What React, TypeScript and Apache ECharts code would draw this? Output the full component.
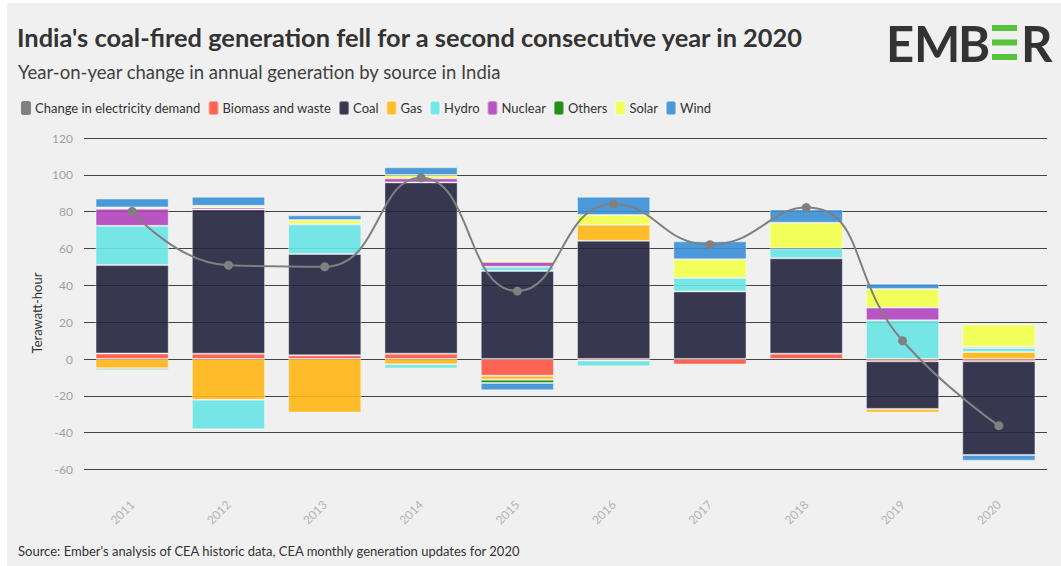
import React, { useEffect, useRef } from "react";
import * as echarts from "echarts";

const years = ["2011", "2012", "2013", "2014", "2015", "2016", "2017", "2018", "2019", "2020"];
const biomass = [3.0, 2.9, 2.0, 2.9, -9.1, -0.8, -3.0, 2.9, -1.2, -1.2];
const coal = [48.0, 78.3, 55.0, 93.0, 47.8, 64.2, 36.7, 51.8, -25.9, -50.9];
const gas = [-5.0, -22.1, -29.1, -2.9, -2.1, 8.7, null, null, -2.0, 3.8];
const hydro = [21.3, -16.1, 16.1, -2.2, 2.3, -3.2, 7.3, 5.4, 21.0, 2.2];
const nuclear = [9.3, 1.1, null, 2.2, 2.6, null, null, null, 6.9, null];
const others = [-0.8, null, null, null, -1.8, null, null, null, null, 0.7];
const solar = [0.7, 0.9, 2.4, 1.8, 1.0, 5.3, 10.1, 13.9, 10.1, 12.1];
const wind = [4.8, 4.9, 2.5, 4.2, -4.0, 9.9, 9.8, 7.2, 2.9, -3.1];
const demand = [80.2, 50.9, 50.1, 98.4, 36.9, 84.1, 62.1, 82.2, 9.9, -36.2];

const sources = [
  { name: "Biomass and waste", data: biomass, color: "#ff5443" },
  { name: "Coal", data: coal, color: "#22223e" },
  { name: "Gas", data: gas, color: "#ffb614" },
  { name: "Hydro", data: hydro, color: "#68e3e3" },
  { name: "Nuclear", data: nuclear, color: "#b144bc" },
  { name: "Others", data: others, color: "#0b8500" },
  { name: "Solar", data: solar, color: "#f2ff49" },
  { name: "Wind", data: wind, color: "#388fd5" },
];
const demandName = "Change in electricity demand";

const FONT = "Lato, 'Noto Sans', sans-serif";

export default function App() {
  const ref = useRef<HTMLDivElement>(null);
  useEffect(() => {
    if (!ref.current) return;
    const chart = echarts.init(ref.current, undefined, { renderer: "svg" });
    const green = "#58c23a";
    const option: any = {
      animation: false,
      backgroundColor: "#ffffff",
      textStyle: { fontFamily: FONT },
      graphic: [
        { type: "rect", z: -10, shape: { x: 7, y: 3, width: 1054, height: 563 }, style: { fill: "#f0f0f0" } },
        {
          type: "text", x: 17, y: 37,
          style: { text: "India's coal-fired generation fell for a second consecutive year in 2020", font: `bold 25.4px ${FONT}`, fill: "#333333", verticalAlign: "middle" },
        },
        {
          type: "text", x: 18, y: 72,
          style: { text: "Year-on-year change in annual generation by source in India", font: `18.5px ${FONT}`, fill: "#404040", verticalAlign: "middle" },
        },
        {
          type: "text", x: 18, y: 551,
          style: { text: "Source: Ember's analysis of CEA historic data, CEA monthly generation updates for 2020", font: `13px ${FONT}`, fill: "#333333", verticalAlign: "middle" },
        },
        {
          type: "text", x: 37, y: 313, rotation: Math.PI / 2,
          style: { text: "Terawatt-hour", font: `13px ${FONT}`, fill: "#333333", align: "center", verticalAlign: "middle" },
        },
        { type: "text", x: 886, y: 43, style: { text: "E", font: `bold 49px ${FONT}`, fill: "#333333", verticalAlign: "middle" } },
        { type: "text", x: 914, y: 43, style: { text: "M", font: `bold 49px ${FONT}`, fill: "#333333", verticalAlign: "middle" } },
        { type: "text", x: 958, y: 43, style: { text: "B", font: `bold 49px ${FONT}`, fill: "#333333", verticalAlign: "middle" } },
        { type: "rect", shape: { x: 992, y: 25, width: 25, height: 6 }, style: { fill: green } },
        { type: "rect", shape: { x: 992, y: 39.5, width: 25, height: 6 }, style: { fill: green } },
        { type: "rect", shape: { x: 992, y: 54, width: 25, height: 6 }, style: { fill: green } },
        { type: "text", x: 1021, y: 43, style: { text: "R", font: `bold 49px ${FONT}`, fill: "#333333", verticalAlign: "middle" } },
      ],
      legend: {
        left: 16,
        top: 95,
        itemWidth: 10,
        itemHeight: 14,
        itemGap: 7,
        icon: "roundRect",
        textStyle: { fontFamily: FONT, fontSize: 13, color: "#333333", padding: [0, 0, 0, -1] },
        data: [demandName, ...sources.map((s) => s.name)],
      },
      grid: { left: 84, right: 14, top: 138, bottom: 96.5, containLabel: false },
      xAxis: {
        type: "category",
        data: years,
        axisLine: { show: false },
        axisTick: { show: false },
        axisLabel: { rotate: 45, margin: 33, color: "#b4b4b4", fontSize: 12, fontFamily: FONT },
        splitLine: { show: false },
      },
      yAxis: {
        type: "value",
        min: -60,
        max: 120,
        interval: 20,
        axisLine: { show: false },
        axisTick: { show: false },
        axisLabel: { margin: 11, color: "#a0a0a0", fontSize: 12, fontFamily: FONT },
        splitLine: { lineStyle: { color: "#444444", width: 1 } },
      },
      series: [
        ...sources.map((s) => ({
          name: s.name,
          type: "bar",
          stack: "total",
          stackStrategy: "samesign",
          barWidth: "76%",
          data: s.data,
          itemStyle: { color: s.color, opacity: 0.9, borderColor: "rgba(255,255,255,0.45)", borderWidth: 1 },
        })),
        {
          name: demandName,
          type: "line",
          smooth: true,
          data: demand,
          z: 10,
          symbol: "circle",
          symbolSize: 9,
          lineStyle: { color: "#808080", width: 2 },
          itemStyle: { color: "#808080" },
        },
      ],
    };
    chart.setOption(option);
    return () => chart.dispose();
  }, []);
  return <div ref={ref} style={{ position: "fixed", left: 0, top: 0, width: 1061, height: 566 }} />;
}
